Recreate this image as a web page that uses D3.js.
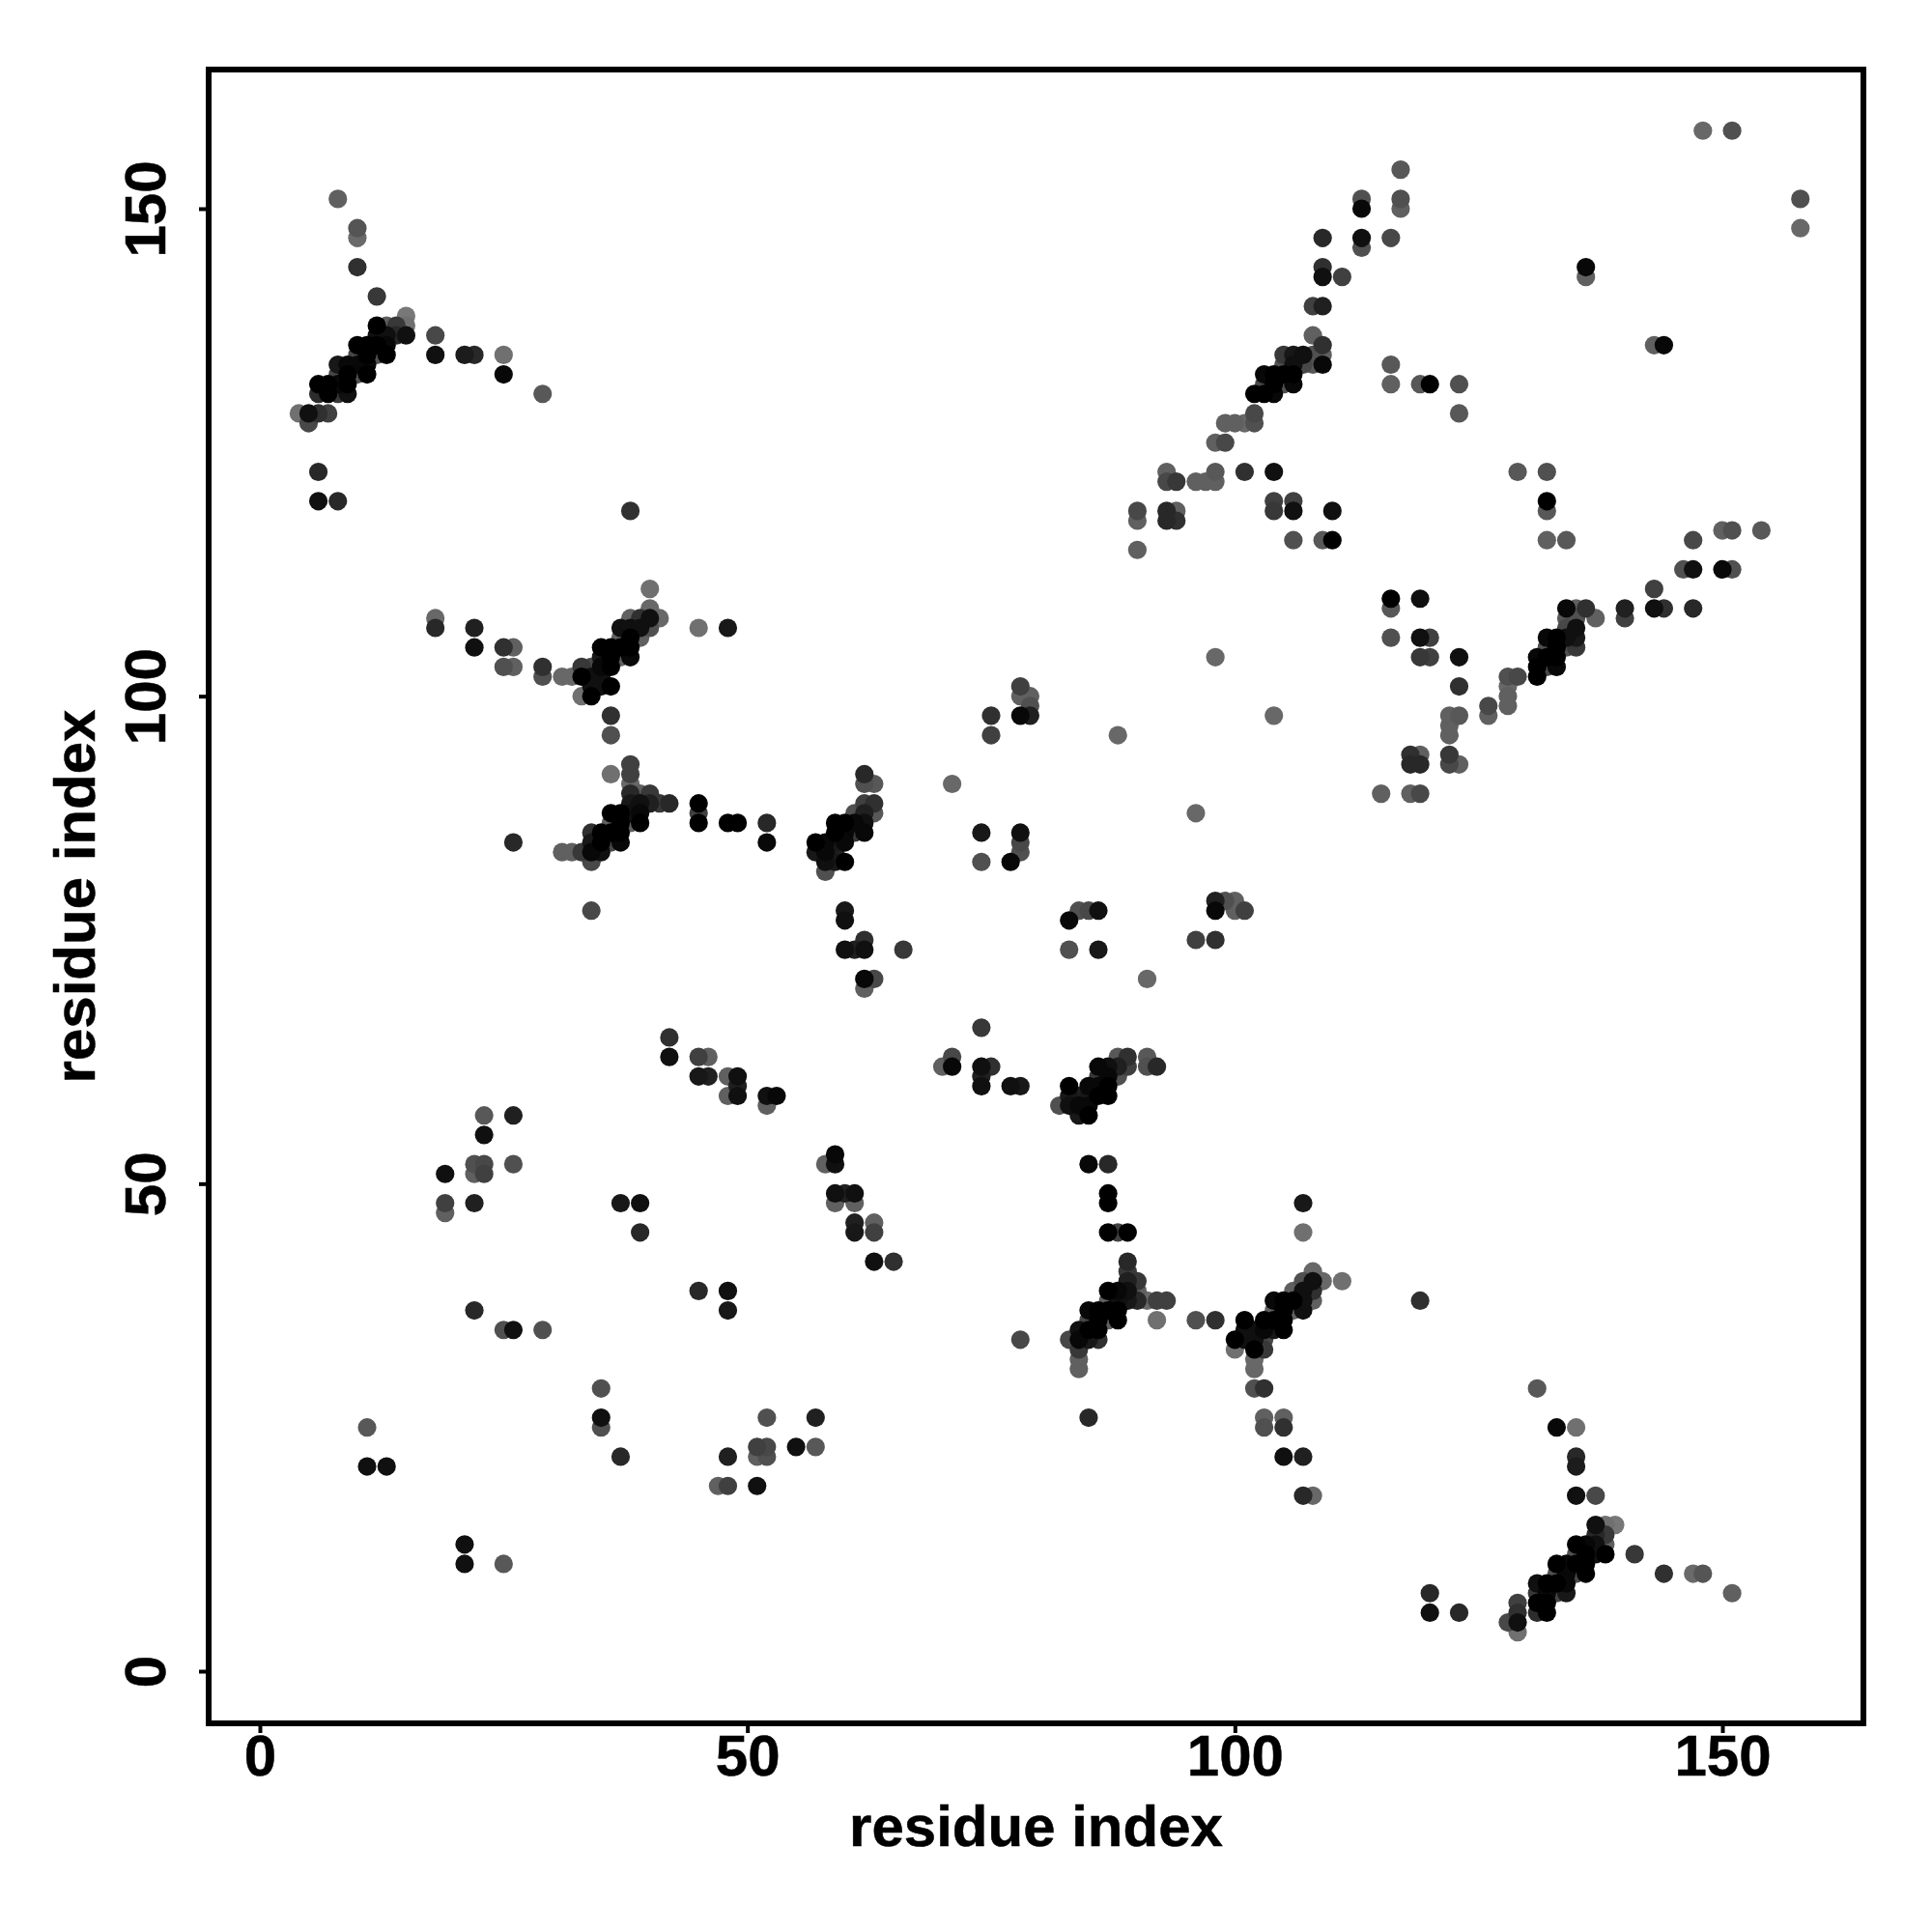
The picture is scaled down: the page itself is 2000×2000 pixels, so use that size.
<!DOCTYPE html>
<html><head><meta charset="utf-8">
<script src="https://cdn.jsdelivr.net/npm/d3@7"></script>
<style>html,body{margin:0;padding:0;background:#fff}svg{display:block}text{font-family:"Liberation Sans",Arial,sans-serif;font-weight:700;fill:#000;stroke:#000;stroke-width:0.5px}</style>
</head><body><svg id="c" width="2000" height="2000"></svg>
<script>
// [residue i, residue j, shade level 0-255]; the map is symmetric, so only i<j is listed
const contactsA = [[8,151,0x60],[10,148,0x55],[10,147,0x6a],[10,144,0x30],[12,141,0x38],[15,139,0x78],[15,138,0x70],[18,137,0x48],[18,135,0x10],[21,135,0x1c],[22,135,0x28],[25,135,0x70],[25,133,0x08],[29,131,0x58],
[4,129,0x70],[5,129,0x10],[6,129,0x30],[7,129,0x40],[5,128,0x48],[6,123,0x28],[6,120,0x10],[8,120,0x28],[38,119,0x30],
[6,132,0],[7,132,0],[6,131,0x2c],[7,131,0],[8,131,0x38],[9,131,0x10],[8,134,0x18],[9,134,8],[8,133,0x48],[9,133,0],[8,132,8],[9,132,0],[10,133,0x50],[11,133,0],[10,136,0],[11,136,0],[10,135,0x48],[11,135,0],[10,134,8],[11,134,8],[12,135,0x50],[13,135,0],[12,136,0],[13,136,8],[12,138,0],[13,138,0x60],[12,137,0x10],[13,137,0x10],[14,138,0x38],[14,137,0x28],[15,137,0x10]];
const contactsB = [[18,108,0x68],[18,107,0x28],[22,107,0x20],[22,105,0x10],[25,105,0x30],[26,105,0x60],[25,103,0x50],[26,103,0x60],[29,103,0x30],[29,102,0x50],[31,102,0x68],[32,102,0x68],[33,100,0x70],[34,100,0],[36,101,0],[36,98,0x30],[36,96,0x50],
[33,103,0x38],[34,103,0x48],[33,102,0],[34,101,0x10],[34,102,0x10],[35,101,0x10],[35,102,0x10],[35,103,8],[35,105,0],[35,104,0x18],[36,103,0],[36,105,0],[36,104,0],[37,107,0x10],[37,106,0x60],[37,104,0x60],[37,105,0],[38,104,8],[38,105,0],[38,106,0],[38,108,0x60],[38,107,0x10],[39,106,0x60],[39,108,0x30],[39,107,0x10],[40,107,0x50],[40,108,0x10],[40,109,0x68],[40,111,0x70],[41,108,0x68],[45,107,0x70],[48,107,0x18]];
const contactsC = [[38,93,0x40],[38,92,0x40],[36,92,0x70],[38,91,0x68],[39,90,0x60],[38,90,0x28],[40,90,0x38],[41,89,0x38],[42,89,0x28],[40,89,0x20],[39,89,0x10],[38,89,0x18],[36,88,0],[37,88,0],[38,88,0x10],[39,88,8],[38,87,0x60],[39,87,0],[36,87,0x60],[37,87,0],[37,86,0],[36,86,0],[34,86,0x30],[35,86,0],[37,85,8],[36,85,0x48],[35,85,0],[34,85,0x18],[35,84,0x10],[34,84,8],[33,84,0x38],[32,84,0x60],[31,84,0x60],[34,83,0x48],[45,89,0],[45,88,0x40],[45,87,0],[48,87,0],[49,87,0],[52,87,0x28],[52,85,8],[26,85,0x28],[34,78,0x48]];
const contactsD = [[62,92,0x28],[62,91,0x50],[63,91,0x58],[62,89,0x40],[63,89,0x30],[63,88,0x58],[62,88,0x20],[61,88,0x50],[62,86,8],[62,87,0x10],[61,87,8],[61,86,0x38],[59,87,0],[60,87,0],[59,86,0],[60,86,8],[59,85,0x18],[60,85,8],[57,85,0],[58,85,8],[57,84,0x18],[58,84,8],[59,84,0x20],[58,83,0x10],[59,83,0x18],[60,83,0],[58,82,0x50],
[60,78,0x18],[60,77,0x10],[60,74,0x10],[61,74,0x20],[62,74,0x10],[62,75,0x30],[66,74,0x38],[62,71,8],[63,71,0x48],[62,70,0x60]];
const contactsE = [[71,91,0x68],[75,98,0x30],[75,96,0x40],[78,101,0x40],[78,100,0x60],[79,100,0x60],[79,99,0x50],[78,98,8],[79,98,0x20],[74,86,0x18],[74,83,0x50],[78,86,0x10],[78,85,0x48],[78,84,0x50],[77,83,8],[88,96,0x68],[98,104,0x68]];
const contactsF = [[148,158,0x68],[151,158,0x50],[117,154,0x58],[113,151,0x50],[113,150,8],[117,151,0x50],[117,150,0x60],[113,147,0x10],[113,146,0x50],[116,147,0x48],[109,147,0x28],[109,144,0x30],[109,143,0x10],[111,143,0x40],[108,140,0x40],[109,140,0x20],[136,144,8],[136,143,0x60],
[108,137,0x60],[109,136,0x30],[109,135,0x60],[109,134,8],[108,134,0x58],[108,135,0x50],[105,135,0x38],[106,135,0x18],[107,135,0x10],[105,134,0x50],[106,134,0x10],[107,134,0x48],[103,133,8],[104,133,0],[105,133,0],[106,133,0],[103,132,0x48],[104,132,0],[105,132,0x50],[106,132,8],[102,131,0],[103,131,0],[104,131,8],[102,129,0x48],[102,128,0x50],[101,128,0x68],[100,128,0x60],[99,128,0x60],[98,126,0x60],[99,126,0x48]];
const contactsG = [[93,123,0x60],[93,122,0x48],[94,122,0x38],[96,122,0x60],[97,122,0x60],[98,123,0x58],[98,122,0x60],[101,123,0x30],[104,123,0x10],[90,119,0x48],[90,118,0x60],[93,119,0x28],[94,119,0x60],[93,118,0x28],[94,118,0x30],[90,115,0x60],[104,120,0x40],[104,119,0x38],[106,120,0x40],[106,119,0x10],[106,116,0x50],[109,116,0x58],[110,119,0x10],[110,116,0],[116,134,0x58],[116,132,0x60],[119,132,0x58],[120,132,0],[123,132,0x50],[123,129,0x58]];
const contactsH = [[19,51,0x10],[19,48,0x40],[19,47,0x60],[23,57,0x58],[26,57,0x20],[23,55,0x10],[22,52,0x50],[23,52,0x48],[26,52,0x50],[22,51,0x60],[23,51,0x40],[22,48,0x20],[22,37,0x28],[25,35,0x50],[26,35,0x10],[29,35,0x50],[11,25,0x58],[11,21,0x10],[13,21,0x10],[37,48,0x18],[39,48,0x10],[39,45,0x28],[42,65,0x30],[42,63,0x10],[45,63,0x40],[46,63,0x60],[45,61,0x18],[46,61,0x20],[48,61,0x60],[49,61,0x10],[48,59,0x60],[49,60,0x20],[49,59,0x10],[52,59,0x10],[53,59,8],[52,58,0x60]];
const xTicks = [0,50,100,150];
const yTicks = [0,50,100,150];
const xLabel = "residue index", yLabel = "residue index";

const contacts = [].concat(contactsA,contactsB,contactsC,contactsD,contactsE,contactsF,contactsG,contactsH);
const marks = contacts.flatMap(([i,j,v]) => [{x:i,y:j,v},{x:j,y:i,v}]);
marks.sort((a,b)=>b.v-a.v);

const frame = {l:216,t:72,r:1929,b:1784};
const x = d3.scaleLinear().domain([0,150]).range([269,1783]);
const y = d3.scaleLinear().domain([0,150]).range([1730,216]);
const shade = d3.scaleLinear().domain([0,255]).range(["#000","#fff"]);
const svg = d3.select("#c");

svg.append("g").selectAll("circle").data(marks).join("circle")
  .attr("cx",d=>x(d.x)).attr("cy",d=>y(d.y)).attr("r",9.6).attr("fill",d=>shade(d.v));

svg.append("rect").attr("x",frame.l).attr("y",frame.t)
  .attr("width",frame.r-frame.l).attr("height",frame.b-frame.t)
  .attr("fill","none").attr("stroke","#000").attr("stroke-width",6);

const gx = svg.append("g").attr("transform",`translate(0,${frame.b})`)
  .call(d3.axisBottom(x).tickValues(xTicks).tickSize(10).tickPadding(0));
gx.select(".domain").remove();
gx.selectAll("line").attr("stroke","#000").attr("stroke-width",4);
gx.selectAll("text").attr("y",54).attr("dy",0).attr("font-size",60).attr("text-anchor","middle");

const gy = svg.append("g").attr("transform",`translate(${frame.l},0)`)
  .call(d3.axisLeft(y).tickValues(yTicks).tickSize(10).tickPadding(0));
gy.select(".domain").remove();
gy.selectAll("line").attr("stroke","#000").attr("stroke-width",4);
gy.selectAll("text").attr("x",0).attr("dy",0).attr("font-size",60).attr("text-anchor","middle")
  .attr("transform",d=>`translate(-45,0) rotate(-90)`).attr("y",0);

svg.append("text").attr("x",(frame.l+frame.r)/2).attr("y",1911).attr("text-anchor","middle").attr("font-size",60).text(xLabel);
svg.append("text").attr("transform",`translate(98,${(frame.t+frame.b)/2}) rotate(-90)`).attr("text-anchor","middle").attr("font-size",60).text(yLabel);
</script></body></html>
